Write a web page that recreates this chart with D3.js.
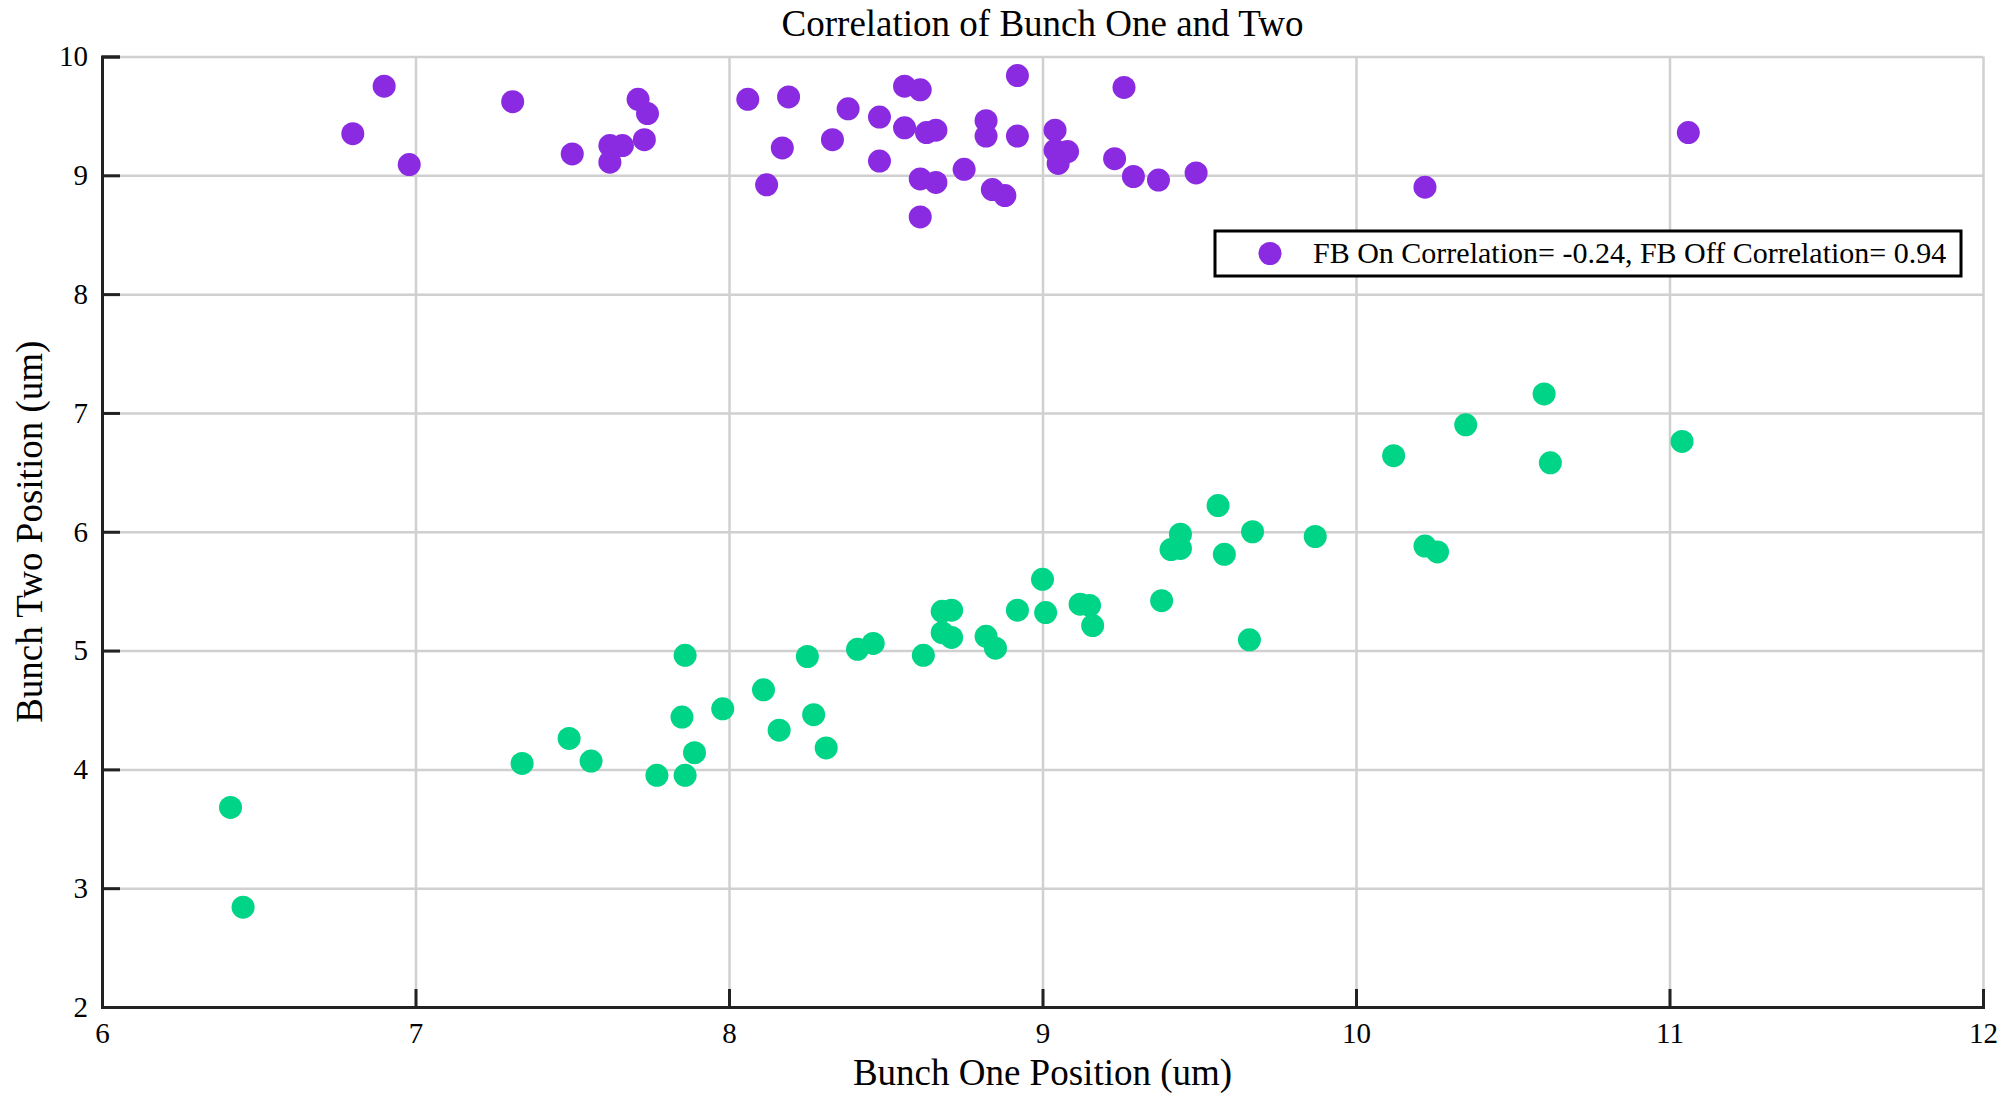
<!DOCTYPE html>
<html>
<head>
<meta charset="utf-8">
<script src="https://cdnjs.cloudflare.com/ajax/libs/d3/7.8.5/d3.min.js"></script>
<style>
  body { margin: 0; background: #fff; }
  text { font-family: "Liberation Serif", "Times New Roman", serif; fill: #000; }
</style>
</head>
<body>
<div id="ScatterChart"></div>
<script>
const widthChart = 2003;
const heightChart = 1093;
const margin = {top: 56.5, right: 20, bottom: 86, left: 102};

// FB on (bunch one, bunch two)
const fbOnX = [6.80, 6.90, 6.98, 7.31, 7.50, 7.62, 7.66, 7.62, 7.71, 7.74, 7.73, 8.06, 8.12, 8.17, 8.19,
  8.33, 8.38, 8.48, 8.48, 8.56, 8.56, 8.61, 8.61, 8.61, 8.63, 8.66, 8.66, 8.75, 8.82, 8.82,
  8.84, 8.88, 8.92, 8.92, 9.04, 9.04, 9.08, 9.05, 9.23, 9.26, 9.29, 9.37, 9.49, 10.22, 11.06];
const fbOnY = [9.35, 9.75, 9.09, 9.62, 9.18, 9.25, 9.25, 9.11, 9.64, 9.52, 9.30, 9.64, 8.92, 9.23, 9.66,
  9.30, 9.56, 9.49, 9.12, 9.40, 9.75, 9.72, 8.97, 8.65, 9.36, 9.38, 8.94, 9.05, 9.46, 9.33,
  8.88, 8.83, 9.84, 9.33, 9.38, 9.21, 9.20, 9.10, 9.14, 9.74, 8.99, 8.96, 9.02, 8.90, 9.36];

// FB off
const fbOffX = [6.41, 6.45, 7.34, 7.49, 7.56, 7.86, 7.85, 7.89, 7.77, 7.86, 7.98, 8.11, 8.16, 8.25, 8.27,
  8.31, 8.41, 8.46, 8.62, 8.68, 8.71, 8.68, 8.71, 8.82, 8.85, 8.92, 9.00, 9.01, 9.12, 9.15,
  9.16, 9.38, 9.41, 9.44, 9.44, 9.56, 9.58, 9.67, 9.66, 9.87, 10.12, 10.35, 10.60, 10.62, 11.04,
  10.22, 10.26];
const fbOffY = [3.68, 2.84, 4.05, 4.26, 4.07, 4.96, 4.44, 4.14, 3.95, 3.95, 4.51, 4.67, 4.33, 4.95, 4.46,
  4.18, 5.01, 5.06, 4.96, 5.33, 5.34, 5.15, 5.11, 5.12, 5.02, 5.34, 5.60, 5.32, 5.39, 5.38,
  5.21, 5.42, 5.85, 5.86, 5.98, 6.22, 5.81, 6.00, 5.09, 5.96, 6.64, 6.90, 7.16, 6.58, 6.76,
  5.88, 5.83];

const xTicks = [6, 7, 8, 9, 10, 11, 12];
const yTicks = [2, 3, 4, 5, 6, 7, 8, 9, 10];
const legendText = "FB On Correlation= -0.24, FB Off Correlation= 0.94";

const colorOn = "#8a2be2";
const colorOff = "#00d486";

const w = 1983 - margin.left;
const h = 1007 - margin.top;

const svg = d3.select("#ScatterChart")
  .append("svg")
  .attr("width", widthChart)
  .attr("height", heightChart);

const g = svg.append("g")
  .attr("transform", `translate(${margin.left},${margin.top})`);

const xScale = d3.scaleLinear().domain([6, 12]).range([0, w]);
const yScale = d3.scaleLinear().domain([2, 10]).range([h, 0]);

// grid
g.append("g")
  .call(d3.axisBottom(xScale).tickValues(xTicks).tickSize(h).tickFormat(""))
  .call(a => a.select(".domain").remove())
  .call(a => a.selectAll("line").attr("stroke", "#d0d0d0").attr("stroke-width", 2.5));
g.append("g")
  .attr("transform", `translate(${w},0)`)
  .call(d3.axisLeft(yScale).tickValues(yTicks).tickSize(w).tickFormat(""))
  .call(a => a.select(".domain").remove())
  .call(a => a.selectAll("line").attr("stroke", "#d0d0d0").attr("stroke-width", 2.5));

// points
const onData = fbOnX.map((x, i) => ({x: x, y: fbOnY[i]}));
const offData = fbOffX.map((x, i) => ({x: x, y: fbOffY[i]}));

g.selectAll(".dotOn")
  .data(onData)
  .join("circle")
    .attr("class", "dotOn")
    .attr("cx", d => xScale(d.x))
    .attr("cy", d => yScale(d.y))
    .attr("r", 11.5)
    .style("fill", colorOn);

g.selectAll(".dotOff")
  .data(offData)
  .join("circle")
    .attr("class", "dotOff")
    .attr("cx", d => xScale(d.x))
    .attr("cy", d => yScale(d.y))
    .attr("r", 11.5)
    .style("fill", colorOff);

// axes, ticks pointing inward
g.append("g")
  .attr("transform", `translate(0,${h})`)
  .call(d3.axisBottom(xScale).tickValues(xTicks).tickSize(-18).tickPadding(15).tickFormat(d3.format("d")))
  .call(a => a.select(".domain").attr("stroke", "#222").attr("stroke-width", 3))
  .call(a => a.selectAll("line").attr("stroke", "#222").attr("stroke-width", 3))
  .call(a => a.selectAll("text").style("font-size", "29px").attr("fill", "#222"));

g.append("g")
  .call(d3.axisLeft(yScale).tickValues(yTicks).tickSize(-18).tickPadding(14).tickFormat(d3.format("d")))
  .call(a => a.select(".domain").attr("stroke", "#222").attr("stroke-width", 3))
  .call(a => a.selectAll("line").attr("stroke", "#222").attr("stroke-width", 3))
  .call(a => a.selectAll("text").style("font-size", "29px").attr("fill", "#222"));

// title + labels
svg.append("text")
  .attr("x", margin.left + w / 2)
  .attr("y", 36)
  .attr("text-anchor", "middle")
  .style("font-size", "37px")
  .text("Correlation of Bunch One and Two");

svg.append("text")
  .attr("x", margin.left + w / 2)
  .attr("y", 1085)
  .attr("text-anchor", "middle")
  .style("font-size", "37px")
  .text("Bunch One Position (um)");

svg.append("text")
  .attr("transform", `translate(42,${margin.top + h / 2}) rotate(-90)`)
  .attr("text-anchor", "middle")
  .style("font-size", "37px")
  .text("Bunch Two Position (um)");

// legend (only the FB On entry is shown)
const leg = svg.append("g").attr("transform", "translate(1215,231)");
leg.append("rect")
  .attr("width", 746)
  .attr("height", 45)
  .style("fill", "#fff")
  .style("stroke", "#000")
  .style("stroke-width", 3);
leg.append("circle")
  .attr("cx", 55)
  .attr("cy", 22.5)
  .attr("r", 11.5)
  .style("fill", colorOn);
leg.append("text")
  .attr("x", 98)
  .attr("y", 32)
  .style("font-size", "30px")
  .text(legendText);
</script>
</body>
</html>
